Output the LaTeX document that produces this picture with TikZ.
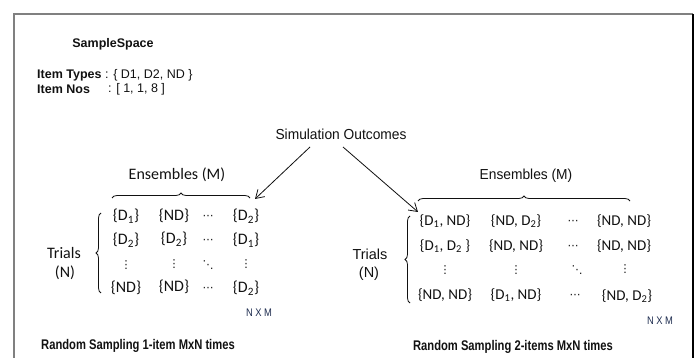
\documentclass[tikz,border=0pt]{standalone}
\usepackage{fontspec}
\usepackage{graphicx}
\setmainfont{Liberation Sans}
\newfontfamily\calfont{Carlito}
\newfontfamily\djv{DejaVu Sans}
\usetikzlibrary{decorations.pathreplacing,arrows.meta}
\definecolor{txt}{HTML}{111111}
\definecolor{nxm}{HTML}{1F2D50}
\begin{document}
\begin{tikzpicture}[x=1pt,y=-1pt,
  every node/.style={inner sep=0pt, text=txt},
  hdr/.style={font=\fontsize{12.5}{14}\selectfont\bfseries},
  val/.style={font=\fontsize{12.5}{14}\selectfont, anchor=west},
  ttl/.style={font=\fontsize{14}{16}\selectfont\bfseries},
  arl/.style={font=\fontsize{14.5}{16}\selectfont},
  cal/.style={font=\calfont\fontsize{16}{18}\selectfont},
  mL/.style={font=\calfont\fontsize{16}{18}\selectfont},
  mR/.style={font=\calfont\fontsize{15}{17}\selectfont},
  dts/.style={font=\djv\fontsize{11}{12}\selectfont},
  nxmst/.style={font=\fontsize{11}{12}\selectfont, text=nxm},
  brc/.style={draw=txt, line width=0.8pt, decorate, decoration={brace, amplitude=5pt}},
  arr/.style={draw=txt, line width=0.8pt, -{Straight Barb[length=8pt,width=10pt]}}]
\useasboundingbox (0,0) rectangle (697,358);
% frame
\draw[gray, line width=1.6pt] (14,358) -- (14,14) -- (693,14);
\draw[black, line width=1.6pt] (693,14) -- (693,358);
% sample space
\node[hdr] (ss) at (113,44) {SampleSpace};
\node[hdr, anchor=west] (it) at (37,75) {Item Types};
\node[val] (itv) at (105,75) {: \{ D1, D2, ND \}};
\node[hdr, anchor=west] (in) at (37,89) {Item Nos};
\node[val] (inv) at (108,89) {: [ 1, 1, 8 ]};
% simulation outcomes
\node[arl] (so) at (341,134) {\scalebox{0.95}[1]{Simulation Outcomes}};
\coordinate (soL) at (310,147);
\coordinate (soR) at (343,147);
\coordinate (tipL) at (255,199);
\coordinate (tipR) at (418,212);
\draw[arr] (soL) -- (tipL);
\draw[arr] (soR) -- (tipR);
% left block
\node[cal] (ensL) at (177,175) {Ensembles (M)};
\coordinate (obL1) at (112,198);
\coordinate (obL2) at (250,198);
\draw[brc] (obL1) -- (obL2);
\node[cal] (trL) at (64,253) {Trials};
\node[cal] (nL) at (65,273) {(N)};
\coordinate (lbL1) at (101,293);
\coordinate (lbL2) at (101,213);
\draw[brc] (lbL1) -- (lbL2);
\node[mL] (a11) at (126,216) {\{D\textsubscript{1}\}};
\node[mL] (a12) at (174,216) {\{ND\}};
\node[dts] (a13) at (208,217) {⋯};
\node[mL] (a14) at (246,216) {\{D\textsubscript{2}\}};
\node[mL] (a21) at (126,240) {\{D\textsubscript{2}\}};
\node[mL] (a22) at (174,239) {\{D\textsubscript{2}\}};
\node[dts] (a23) at (208,241) {⋯};
\node[mL] (a24) at (246,240) {\{D\textsubscript{1}\}};
\node[dts] (a31) at (126,265) {⋮};
\node[dts] (a32) at (174,264) {⋮};
\node[dts] (a33) at (208,265) {⋱};
\node[dts] (a34) at (246,264) {⋮};
\node[mL] (a41) at (126,288) {\{ND\}};
\node[mL] (a42) at (174,287) {\{ND\}};
\node[dts] (a43) at (208,289) {⋯};
\node[mL] (a44) at (246,288) {\{D\textsubscript{2}\}};
\node[nxmst] (nxmL) at (259,313) {\scalebox{0.85}[1]{N X M}};
% right block
\node[arl] (ensR) at (526,176) {\scalebox{0.95}[1]{Ensembles (M)}};
\coordinate (obR1) at (418,201);
\coordinate (obR2) at (630,201);
\draw[brc] (obR1) -- (obR2);
\node[arl] (trR) at (370,254) {Trials};
\node[arl] (nR) at (369,274) {(N)};
\coordinate (lbR1) at (410,303);
\coordinate (lbR2) at (410,216);
\draw[brc] (lbR1) -- (lbR2);
\node[mR] (b11) at (445,221) {\{D\textsubscript{1}, ND\}};
\node[mR] (b12) at (516,221) {\{ND, D\textsubscript{2}\}};
\node[dts] (b13) at (573,222) {⋯};
\node[mR] (b14) at (624,221) {\{ND, ND\}};
\node[mR] (b21) at (445,246) {\{D\textsubscript{1}, D\textsubscript{2} \}};
\node[mR] (b22) at (516,246) {\{ND, ND\}};
\node[dts] (b23) at (573,247) {⋯};
\node[mR] (b24) at (624,246) {\{ND, ND\}};
\node[dts] (b31) at (445,270) {⋮};
\node[dts] (b32) at (516,270) {⋮};
\node[dts] (b33) at (577,270) {⋱};
\node[dts] (b34) at (625,269) {⋮};
\node[mR] (b41) at (445,295) {\{ND, ND\}};
\node[mR] (b42) at (516,295) {\{D\textsubscript{1}, ND\}};
\node[dts] (b43) at (575,296) {⋯};
\node[mR] (b44) at (627,296) {\{ND, D\textsubscript{2}\}};
\node[nxmst] (nxmR) at (660,321) {\scalebox{0.85}[1]{N X M}};
% titles
\node[ttl] (t1) at (138,346) {\scalebox{0.8}[1]{Random Sampling 1-item MxN times}};
\node[ttl] (t2) at (513,347) {\scalebox{0.8}[1]{Random Sampling 2-items MxN times}};
\end{tikzpicture}
\end{document}
